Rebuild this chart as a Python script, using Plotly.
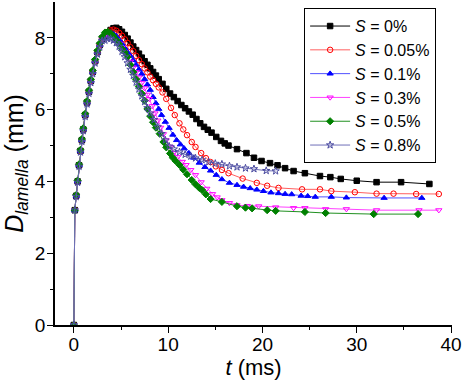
import plotly.graph_objects as go

# rise part (ms, mm), shared shape
t_rise = [0, 0.1, 0.25, 0.4, 0.55, 0.7, 0.85, 1.0, 1.2, 1.4, 1.6, 1.8, 2.0, 2.25, 2.5, 2.75, 3.0]
d_rise = [0, 3.2, 3.6, 4.0, 4.45, 4.85, 5.15, 5.45, 5.85, 6.2, 6.5, 6.8, 7.05, 7.35, 7.6, 7.8, 7.98]

t_s0 = [3.3, 3.6, 3.9, 4.2, 4.5, 4.8, 5.1, 5.4, 5.7, 6.0, 6.3, 6.6, 6.9, 7.2, 7.5, 7.8, 8.1, 8.4, 8.7, 9.0,
        9.4, 9.8, 10.2, 10.6, 11.0, 11.4, 11.8, 12.2, 12.6, 13.0, 13.4, 13.8, 14.2, 14.6, 15.1, 15.6, 16.0,
        16.4, 17.3, 18.3, 19.1, 19.9, 20.8, 21.6, 22.4, 23.3, 24.5, 26.1, 27.2, 28.3, 30.0, 32.1, 34.7, 37.7]
d_s0 = [8.05, 8.15, 8.22, 8.27, 8.28, 8.24, 8.17, 8.08, 7.98, 7.87, 7.76, 7.66, 7.56, 7.45, 7.35, 7.25, 7.15,
        7.05, 6.95, 6.85, 6.72, 6.58, 6.45, 6.35, 6.24, 6.13, 6.04, 5.95, 5.86, 5.74, 5.62, 5.52, 5.44, 5.36,
        5.24, 5.13, 5.06, 5.0, 4.9, 4.79, 4.66, 4.57, 4.51, 4.45, 4.37, 4.29, 4.23, 4.15, 4.12, 4.07, 4.02,
        3.98, 3.98, 3.93]

t_s005 = [3.3, 3.6, 3.9, 4.2, 4.5, 4.8, 5.1, 5.4, 5.7, 6.0, 6.3, 6.6, 6.9, 7.2, 7.5, 7.8, 8.1, 8.4, 8.7, 9.0,
          9.4, 9.8, 10.3, 10.7, 11.2, 11.6, 12.0, 12.5, 12.9, 13.5, 14.0, 14.5, 15.05, 15.7, 16.4, 17.9, 19.4,
          20.5, 21.7, 24.2, 26.1, 27.3, 29.8, 32.1, 33.9, 36.3, 38.7]
d_s005 = [8.08, 8.16, 8.21, 8.23, 8.2, 8.14, 8.06, 7.96, 7.86, 7.74, 7.63, 7.5, 7.38, 7.27, 7.15, 7.04, 6.92,
          6.82, 6.72, 6.62, 6.48, 6.3, 6.05, 5.85, 5.62, 5.45, 5.29, 5.1, 4.96, 4.79, 4.65, 4.54, 4.42, 4.32,
          4.23, 4.08, 3.96, 3.88, 3.82, 3.78, 3.78, 3.73, 3.7, 3.66, 3.66, 3.65, 3.65]

t_s01 = [3.3, 3.6, 3.9, 4.2, 4.5, 4.8, 5.1, 5.4, 5.7, 6.0, 6.3, 6.6, 6.9, 7.2, 7.5, 7.8, 8.1, 8.4, 8.7, 9.0,
         9.3, 9.7, 10.1, 10.5, 10.9, 11.3, 11.7, 12.2, 12.7, 13.3, 13.9, 14.5, 15.1, 15.7, 16.5, 17.3, 18.0,
         18.7, 19.4, 20.1, 20.9, 21.7, 22.4, 23.1, 24.1, 24.8, 25.6, 27.3, 28.9, 32.9, 36.9]
d_s01 = [8.08, 8.13, 8.14, 8.11, 8.05, 7.95, 7.84, 7.72, 7.6, 7.5, 7.38, 7.25, 7.12, 7.0, 6.85, 6.7, 6.55,
         6.35, 6.18, 6.02, 5.85, 5.66, 5.49, 5.3, 5.15, 5.03, 4.92, 4.79, 4.66, 4.52, 4.4, 4.3, 4.18, 4.06,
         3.96, 3.9, 3.85, 3.81, 3.77, 3.73, 3.69, 3.67, 3.65, 3.64, 3.6, 3.59, 3.57, 3.57, 3.55, 3.54, 3.54]

t_s03 = [3.3, 3.6, 3.9, 4.2, 4.5, 4.8, 5.1, 5.4, 5.7, 6.0, 6.3, 6.6, 6.9, 7.2, 7.5, 7.8, 8.0, 8.3, 8.6, 8.9,
         9.2, 9.5, 9.8, 10.2, 10.6, 11.0, 11.5, 11.9, 12.4, 12.9, 13.5, 14.1, 14.7, 15.2, 15.7, 16.5, 17.3,
         18.4, 19.6, 21.4, 23.3, 24.5, 26.7, 28.9, 32.1, 36.6, 38.7]
d_s03 = [8.06, 8.08, 8.06, 8.02, 7.94, 7.84, 7.72, 7.6, 7.48, 7.34, 7.18, 7.05, 6.9, 6.75, 6.6, 6.42, 6.3,
         6.1, 5.9, 5.7, 5.5, 5.32, 5.15, 4.97, 4.8, 4.68, 4.55, 4.46, 4.32, 4.18, 3.98, 3.8, 3.65, 3.56, 3.48,
         3.4, 3.34, 3.32, 3.31, 3.28, 3.26, 3.26, 3.23, 3.23, 3.2, 3.2, 3.2]

t_s05 = [3.3, 3.6, 3.9, 4.2, 4.5, 4.8, 5.1, 5.4, 5.7, 6.0, 6.3, 6.6, 6.9, 7.2, 7.5, 7.8, 8.1, 8.4, 8.7, 9.1,
         9.5, 9.8, 10.2, 10.5, 10.8, 11.2, 11.6, 12.0, 12.5, 12.9, 13.3, 13.6, 14.0, 14.5, 15.7, 17.3, 18.2,
         18.9, 20.5, 21.4, 24.5, 26.7, 31.8, 36.5]
d_s05 = [8.15, 8.17, 8.12, 8.05, 7.95, 7.83, 7.7, 7.6, 7.47, 7.25, 7.05, 6.85, 6.65, 6.45, 6.25, 6.02, 5.82,
         5.65, 5.5, 5.33, 5.1, 4.95, 4.78, 4.66, 4.57, 4.46, 4.33, 4.2, 4.04, 3.92, 3.82, 3.76, 3.64, 3.51,
         3.43, 3.31, 3.27, 3.25, 3.2, 3.18, 3.15, 3.12, 3.09, 3.09]

t_s08 = [3.3, 3.6, 3.9, 4.2, 4.5, 4.8, 5.1, 5.4, 5.7, 6.0, 6.3, 6.6, 6.9, 7.2, 7.5, 7.8, 8.1, 8.5, 8.9, 9.3,
         9.7, 10.1, 10.6, 11.2, 11.8, 12.4, 12.9, 13.6, 14.3, 15.0, 15.7, 16.5, 17.3, 18.2, 19.1, 20.4, 21.4]
d_s08 = [7.93, 7.98, 7.98, 7.93, 7.86, 7.76, 7.62, 7.47, 7.3, 7.12, 6.95, 6.76, 6.57, 6.38, 6.22, 6.05, 5.9,
         5.72, 5.52, 5.33, 5.15, 4.98, 4.9, 4.82, 4.75, 4.7, 4.65, 4.6, 4.54, 4.5, 4.48, 4.43, 4.4, 4.37,
         4.35, 4.3, 4.29]

series = [
    ("<i>S</i> = 0%", t_s0, d_s0, 0.0, "black", "black", "square"),
    ("<i>S</i> = 0.05%", t_s005, d_s005, 0.0, "red", "#ff6060", "circle-open"),
    ("<i>S</i> = 0.1%", t_s01, d_s01, 0.0, "blue", "#5050ff", "triangle-up"),
    ("<i>S</i> = 0.3%", t_s03, d_s03, 0.0, "magenta", "#ff40ff", "triangle-down-open"),
    ("<i>S</i> = 0.5%", t_s05, d_s05, 0.05, "green", "#209020", "diamond"),
    ("<i>S</i> = 0.8%", t_s08, d_s08, -0.06, "#4a4aa0", "#7070b8", "star-open"),
]

fig = go.Figure()
for name, tt, dd, shift, mcol, lcol, sym in series:
    rise = [d if d < 3.5 else round(d + shift * (d / 8.0), 3) for d in d_rise]
    fig.add_trace(go.Scatter(
        x=t_rise + tt, y=rise + dd, name=name, mode="lines+markers",
        line=dict(color=lcol, width=1),
        marker=dict(symbol=sym, size=5.5, color=mcol, line=dict(color=mcol, width=1)),
    ))

fam = "Liberation Sans, Arial, sans-serif"

fig.update_layout(
    width=464, height=380,
    margin=dict(l=55, r=9, t=2, b=55),
    plot_bgcolor="white", paper_bgcolor="white",
    font=dict(family=fam, size=19, color="black"),
    showlegend=True,
    legend=dict(x=0.6275, y=0.981, xanchor="left", yanchor="top",
                bordercolor="black", borderwidth=1, bgcolor="white",
                font=dict(family=fam, size=16),
                itemwidth=40, tracegroupgap=0),
    xaxis=dict(range=[-2, 40.1], tickvals=[0, 10, 20, 30, 40], ticks="outside", ticklen=6,
               tickwidth=1.2, tickcolor="black", showline=True, linecolor="black", linewidth=1.5,
               showgrid=False, zeroline=False, ticklabeloverflow="allow", ticklabelstandoff=-5,
               minor=dict(tickvals=[5, 15, 25, 35], ticks="outside", ticklen=3, tickcolor="black"),
               title=dict(text="<i>t</i> (ms)", font=dict(size=22), standoff=0)),
    yaxis=dict(range=[0, 9], tickvals=[0, 2, 4, 6, 8], ticks="outside", ticklen=6,
               tickwidth=1.2, tickcolor="black", showline=True, linecolor="black", linewidth=1.5,
               showgrid=False, zeroline=False, ticklabelstandoff=-2,
               minor=dict(tickvals=[1, 3, 5, 7], ticks="outside", ticklen=3, tickcolor="black"),
               title=dict(text="<i>D</i><sub><i>lamella</i></sub> (mm)", font=dict(size=25), standoff=4)),
    xaxis2=dict(overlaying="x", side="top", matches="x", range=[-2, 40.1],
                tickvals=[0, 5, 10, 15, 20, 25, 30, 35, 40], ticks="inside", ticklen=5,
                tickcolor="black", showticklabels=False, showline=True, linecolor="black",
                linewidth=1.5, showgrid=False, zeroline=False),
    yaxis2=dict(overlaying="y", side="right", matches="y", range=[0, 9],
                tickvals=[0, 1, 2, 3, 4, 5, 6, 7, 8, 9], ticks="inside", ticklen=5,
                tickcolor="black", showticklabels=False, showline=True, linecolor="black",
                linewidth=1.5, showgrid=False, zeroline=False),
)

fig.write_html("out.html", config={"displayModeBar": False},
               post_script="document.body.style.margin='0';")
